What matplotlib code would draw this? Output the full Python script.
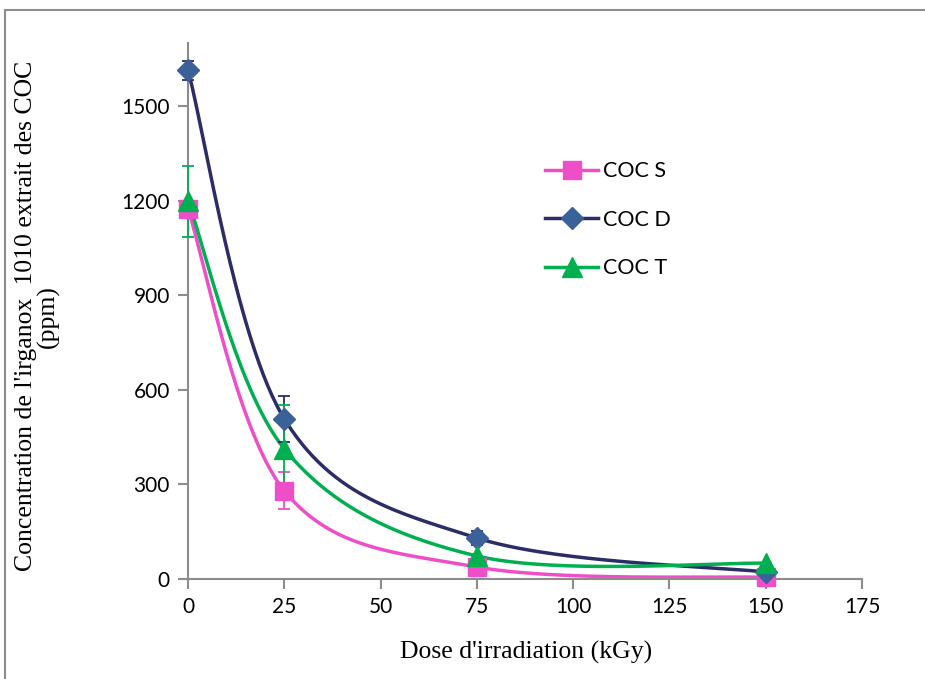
import numpy as np
import matplotlib.pyplot as plt
from matplotlib.patches import Rectangle

# dose (kGy)
dose = [0, 25, 75, 150]

# concentration of irganox 1010 (ppm)
coc_s = [1173, 280, 38, 5]
coc_d = [1614, 508, 130, 22]
coc_t = [1198, 413, 73, 50]

# error bars
err_s = [0, 58, 0, 0]
err_d = [30, 72, 22, 0]
err_t = [112, 140, 0, 0]

labels = ['COC S', 'COC D', 'COC T']


def smooth(xs, ys, xr=175.0, yr=1700.0, n=60):
    # Excel-like smoothed line (Bezier through points, tension 1/6)
    p = np.column_stack([np.asarray(xs, float) / xr, np.asarray(ys, float) / yr])
    out = []
    for i in range(len(p) - 1):
        p0 = p[i - 1] if i > 0 else p[i]
        p3 = p[i + 2] if i + 2 < len(p) else p[i + 1]
        c1 = p[i] + (p[i + 1] - p0) / 6
        c2 = p[i + 1] - (p3 - p[i]) / 6
        t = np.linspace(0, 1, n)[:, None]
        seg = ((1 - t) ** 3) * p[i] + 3 * ((1 - t) ** 2) * t * c1 + 3 * (1 - t) * t ** 2 * c2 + t ** 3 * p[i + 1]
        out.append(seg)
    out = np.vstack(out)
    return out[:, 0] * xr, out[:, 1] * yr


fig = plt.figure(figsize=(9.25, 6.79), dpi=100)
ax = fig.add_axes([0.2032, 0.1473, 0.7287, 0.7894])

fig.patches.append(Rectangle((5 / 925, -0.1), 2, 1.1 - 10 / 679, transform=fig.transFigure,
                             fill=False, edgecolor='#8c8c8c', linewidth=1.5))

series = [
    (coc_s, err_s, '#ee4fc8', '#ee4fc8', '#ee4fc8', 's', 13.5),
    (coc_d, err_d, '#2b2d66', '#3a6198', '#2b2d66', 'D', 11),
    (coc_t, err_t, '#00b050', '#00b050', '#00b050', '^', 14),
]

for (ys, es, lc, mc, ec, mk, ms), lab in zip(series, labels):
    sx, sy = smooth(dose, ys)
    ax.plot(sx, sy, color=lc, linewidth=2.5, zorder=2, clip_on=False)
    eb = ax.errorbar(dose, ys, yerr=es, fmt='none', ecolor=ec,
                     elinewidth=1.3, capsize=4.5, capthick=1.3, zorder=3)
    for art in eb.get_children():
        art.set_clip_on(False)
    ax.plot(dose, ys, linestyle='none', marker=mk, color=mc, markersize=ms,
            markeredgecolor=mc, zorder=4, clip_on=False)
    ax.plot([], [], color=lc, linewidth=2.5, marker=mk, markersize=ms,
            markerfacecolor=mc, markeredgecolor=mc, label=lab)

ax.set_xlim(0, 175)
ax.set_ylim(0, 1700)
ax.set_xticks([0, 25, 50, 75, 100, 125, 150, 175])
ax.set_yticks([0, 300, 600, 900, 1200, 1500])

for s in ['top', 'right']:
    ax.spines[s].set_visible(False)
for s in ['left', 'bottom']:
    ax.spines[s].set_color('#8c8c8c')
    ax.spines[s].set_linewidth(1.5)
ax.tick_params(colors='#8c8c8c', length=7, width=1.5, labelcolor='black',
               labelsize=15, pad=6)
for lbl in ax.get_xticklabels() + ax.get_yticklabels():
    lbl.set_family(['Lato', 'DejaVu Sans'])

ax.set_xlabel("Dose d'irradiation (kGy)", family='Liberation Serif', fontsize=18.5)
ax.set_ylabel("Concentration de l'irganox  1010 extrait des COC\n(ppm)",
              family='Liberation Serif', fontsize=18.5, linespacing=1.0)
ax.xaxis.set_label_coords(0.501, -0.115)
ax.yaxis.set_label_coords(-0.19, 0.49)

ax.legend(loc='center left', bbox_to_anchor=(0.53, 0.67), frameon=False,
          prop={'family': 'Lato', 'size': 15.5}, labelspacing=1.33,
          handlelength=2.45, handletextpad=0.23, borderpad=0, borderaxespad=0)

fig.savefig('out.png', dpi=100)
